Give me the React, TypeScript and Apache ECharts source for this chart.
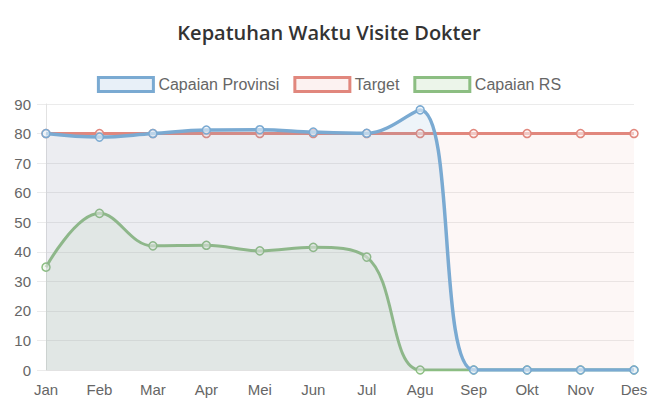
import React, { useEffect, useRef } from "react";
import * as echarts from "echarts";

const months = ["Jan", "Feb", "Mar", "Apr", "Mei", "Jun", "Jul", "Agu", "Sep", "Okt", "Nov", "Des"];
const provinsi = [80, 78.8, 80, 81.2, 81.3, 80.5, 80.1, 88, 0, 0, 0, 0];
const target = [80, 80, 80, 80, 80, 80, 80, 80, 80, 80, 80, 80];
const capaianRS = [34.8, 53, 42, 42.2, 40.3, 41.5, 38.2, 0, 0, 0, 0, 0];
const yTicks = { min: 0, max: 90, interval: 10 };

const BLUE = "rgb(122,170,210)";
const BLUE_FILL = "rgba(122,168,205,0.18)";
const BLUE_PT = "rgba(232,240,248,0.6)";
const RED = "rgb(225,135,125)";
const RED_FILL = "rgba(225,135,125,0.1)";
const RED_PT = "rgba(252,242,241,0.6)";
const GREEN = "rgb(140,190,130)";
const GREEN_FILL = "rgba(140,190,130,0.15)";
const GREEN_PT = "rgba(236,245,234,0.6)";

export default function App() {
  const ref = useRef<HTMLDivElement>(null);
  useEffect(() => {
    document.body.style.margin = "0";
    const chart = echarts.init(ref.current!, null, { renderer: "svg" });
    const mk = (name: string, data: number[], line: string, fill: string, pt: string, width: number, z: number) => ({
      name,
      type: "line",
      data,
      smooth: 0.4,
      z,
      symbol: "circle",
      symbolSize: 8,
      showSymbol: true,
      lineStyle: { color: line, width },
      itemStyle: { color: pt, borderColor: line, borderWidth: 1.5 },
      areaStyle: { color: fill, origin: "start" },
    });
    chart.setOption({
      animation: false,
      title: {
        text: "Kepatuhan Waktu Visite Dokter",
        left: "center",
        top: 17,
        textStyle: { fontFamily: "Open Sans", fontWeight: 600, fontSize: 20, color: "#333" },
      },
      legend: {
        top: 71,
        left: "center",
        icon: "rect",
        itemWidth: 55,
        itemHeight: 14,
        itemGap: 14,
        textStyle: { fontFamily: "Liberation Sans", fontSize: 16, color: "#666" },
        data: [
          { name: "Capaian Provinsi", itemStyle: { color: "rgb(232,240,248)", borderColor: BLUE, borderWidth: 3 } },
          { name: "Target", itemStyle: { color: "rgb(252,242,241)", borderColor: RED, borderWidth: 3 } },
          { name: "Capaian RS", itemStyle: { color: "rgb(236,245,234)", borderColor: GREEN, borderWidth: 3 } },
        ],
      },
      grid: { left: 46, right: 24, top: 104, bottom: 42 },
      xAxis: {
        type: "category",
        data: months,
        boundaryGap: false,
        axisLine: { show: true, lineStyle: { color: "#e2e2e2" } },
        axisTick: { show: false },
        splitLine: { show: false },
        axisLabel: { fontFamily: "Liberation Sans", fontSize: 15, color: "#666", margin: 12 },
      },
      yAxis: {
        type: "value",
        min: yTicks.min,
        max: yTicks.max,
        interval: yTicks.interval,
        axisLine: { show: true, lineStyle: { color: "#e2e2e2" } },
        axisTick: { show: true, length: 9, lineStyle: { color: "#ebebeb" } },
        splitLine: { show: true, lineStyle: { color: "#ebebeb" } },
        axisLabel: { fontFamily: "Liberation Sans", fontSize: 15, color: "#666", margin: 15 },
      },
      series: [
        mk("Capaian Provinsi", provinsi, BLUE, BLUE_FILL, BLUE_PT, 3.5, 4),
        mk("Target", target, RED, RED_FILL, RED_PT, 3, 3),
        mk("Capaian RS", capaianRS, GREEN, GREEN_FILL, GREEN_PT, 3, 2),
      ],
    });
    return () => chart.dispose();
  }, []);
  return <div ref={ref} style={{ width: 658, height: 412 }} />;
}
